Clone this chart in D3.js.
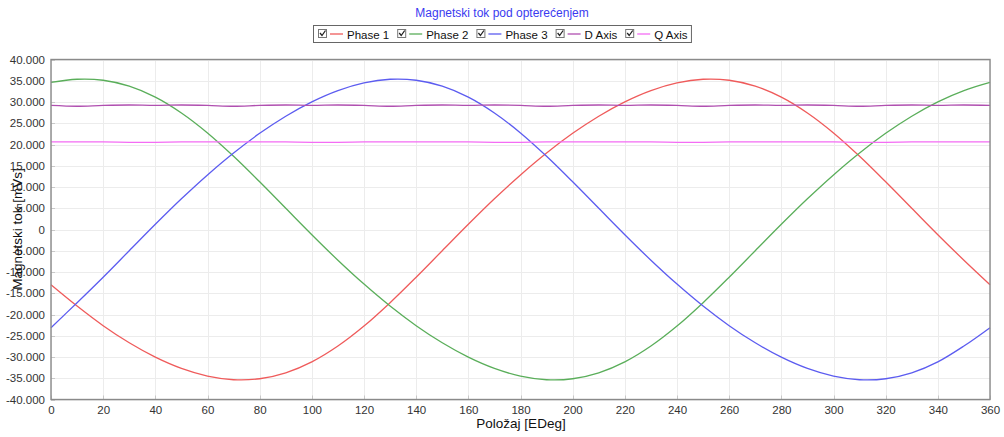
<!DOCTYPE html>
<html><head><meta charset="utf-8">
<script src="https://cdn.jsdelivr.net/npm/d3@7"></script>
<style>
html,body{margin:0;padding:0;background:#fff;}
svg{display:block;font-family:"Liberation Sans",Arial,sans-serif;}
</style></head>
<body><svg id="c" width="1004" height="437"></svg>
<script>
const title = "Magnetski tok pod opterećenjem";
const xLabel = "Položaj [EDeg]";
const yLabel = "Magnetski tok [mVs]";
const angles = [0,10,20,30,40,50,60,70,80,90,100,110,120,130,140,150,160,170,180,190,200,210,220,230,240,250,260,270,280,290,300,310,320,330,340,350,360];
const phase1 = [-13.0,-18.01,-22.63,-26.66,-30.04,-32.69,-34.5,-35.35,-35.12,-33.73,-31.15,-27.42,-22.72,-17.22,-11.22,-4.99,1.23,7.23,12.85,18.01,22.63,26.66,30.04,32.69,34.5,35.35,35.12,33.73,31.15,27.42,22.72,17.22,11.22,4.99,-1.23,-7.23,-13.0];
const phase2 = [34.6,35.35,35.12,33.73,31.15,27.42,22.72,17.22,11.22,4.99,-1.23,-7.23,-12.85,-18.01,-22.63,-26.66,-30.04,-32.69,-34.5,-35.35,-35.12,-33.73,-31.15,-27.42,-22.72,-17.22,-11.22,-4.99,1.23,7.23,12.85,18.01,22.63,26.66,30.04,32.69,34.6];
const phase3 = [-23.1,-17.22,-11.22,-4.99,1.23,7.23,12.85,18.01,22.63,26.66,30.04,32.69,34.5,35.35,35.12,33.73,31.15,27.42,22.72,17.22,11.22,4.99,-1.23,-7.23,-12.85,-18.01,-22.63,-26.66,-30.04,-32.69,-34.5,-35.35,-35.12,-33.73,-31.15,-27.42,-23.1];
const dAxis = [29.2,29.0,29.2,29.3,29.2,29.3,29.2,29.0,29.2,29.3,29.2,29.3,29.2,29.0,29.2,29.3,29.2,29.3,29.2,29.0,29.2,29.3,29.2,29.3,29.2,29.0,29.2,29.3,29.2,29.3,29.2,29.0,29.2,29.3,29.2,29.3,29.2];
const qAxis = [20.6,20.6,20.6,20.5,20.5,20.6,20.6,20.6,20.6,20.6,20.5,20.5,20.6,20.6,20.6,20.6,20.6,20.5,20.5,20.6,20.6,20.6,20.6,20.6,20.5,20.5,20.6,20.6,20.6,20.6,20.6,20.5,20.5,20.6,20.6,20.6,20.6];
const seriesNames = ["Phase 1","Phase 2","Phase 3","D Axis","Q Axis"];
const seriesColors = ["#ef5b5b","#5aae5a","#5c5cf0","#b04fb0","#f46cf4"];
const xTicks = [0,20,40,60,80,100,120,140,160,180,200,220,240,260,280,300,320,340,360];
const yTicks = [-40,-35,-30,-25,-20,-15,-10,-5,0,5,10,15,20,25,30,35,40];
const yTickLabels = ["-40.000","-35.000","-30.000","-25.000","-20.000","-15.000","-10.000","-5.000","0","5.000","10.000","15.000","20.000","25.000","30.000","35.000","40.000"];

const allSeries = [phase1,phase2,phase3,dAxis,qAxis];
const svg = d3.select("#c");
const L=51, R=990, T=59.5, B=399.5;
const x = d3.scaleLinear().domain([0,360]).range([L,R]);
const y = d3.scaleLinear().domain([-40,40]).range([B,T]);

// grid
const g = svg.append("g");
g.selectAll(".vg").data(xTicks).join("line")
  .attr("x1",d=>Math.round(x(d))+0.5).attr("x2",d=>Math.round(x(d))+0.5)
  .attr("y1",T).attr("y2",B).attr("stroke","#ececec").attr("stroke-width",1);
g.selectAll(".hg").data(yTicks).join("line")
  .attr("y1",d=>Math.round(y(d))+0.5).attr("y2",d=>Math.round(y(d))+0.5)
  .attr("x1",L).attr("x2",R).attr("stroke","#ececec").attr("stroke-width",1);

// axes
const xAxis = d3.axisBottom(x).tickValues(xTicks).tickSize(0).tickPadding(6).tickFormat(d3.format("d"));
const yAxis = d3.axisLeft(y).tickValues(yTicks).tickSize(0).tickPadding(6).tickFormat(d=>yTickLabels[yTicks.indexOf(d)]);
const gx = svg.append("g").attr("transform",`translate(0,${B})`).call(xAxis);
const gy = svg.append("g").attr("transform",`translate(${L},0)`).call(yAxis);
[gx,gy].forEach(a=>{a.select(".domain").remove(); a.selectAll("text").attr("fill","#333").style("font-size","11.5px").style("font-family","'Liberation Sans',Arial,sans-serif");});

// small inner tick marks
svg.append("g").selectAll("line").data(xTicks).join("line")
  .attr("x1",d=>Math.round(x(d))+0.5).attr("x2",d=>Math.round(x(d))+0.5)
  .attr("y1",B).attr("y2",B-4).attr("stroke","#c8c8c8");
svg.append("g").selectAll("line").data(yTicks).join("line")
  .attr("y1",d=>Math.round(y(d))+0.5).attr("y2",d=>Math.round(y(d))+0.5)
  .attr("x1",L).attr("x2",L+4).attr("stroke","#c8c8c8");

// series
const line = d3.line().curve(d3.curveCatmullRom.alpha(0.5)).x((d,i)=>x(angles[i])).y(d=>y(d));
svg.append("g").selectAll("path").data(allSeries).join("path")
  .attr("d",d=>line(d)).attr("fill","none")
  .attr("stroke",(d,i)=>seriesColors[i]).attr("stroke-width",1.3);

// frame
svg.append("rect").attr("x",L).attr("y",T).attr("width",R-L).attr("height",B-T)
  .attr("fill","none").attr("stroke","#8a8a8a").attr("stroke-width",1.4);

// title
svg.append("text").attr("x",502).attr("y",17).attr("text-anchor","middle")
  .attr("fill","#3a3af0").style("font-size","12px").text(title);

// axis labels
svg.append("text").attr("x",521).attr("y",428).attr("text-anchor","middle")
  .attr("fill","#111").style("font-size","13.5px").text(xLabel);
svg.append("text").attr("transform","translate(22,229) rotate(-90)").attr("text-anchor","middle")
  .attr("fill","#111").style("font-size","13.5px").text(yLabel);

// legend
const lg = svg.append("g");
const box = lg.append("rect").attr("y",25.5).attr("height",17).attr("fill","#fff")
  .attr("stroke","#666").attr("stroke-width",1);
let cx = 318;
seriesNames.forEach((n,i)=>{
  const it = lg.append("g").attr("transform",`translate(${cx},0)`);
  it.append("rect").attr("x",0.5).attr("y",29.5).attr("width",8).attr("height",8)
    .attr("fill","#fff").attr("stroke","#777");
  it.append("path").attr("d","M2,33 L4,35.5 L7.5,30.5").attr("fill","none").attr("stroke","#222").attr("stroke-width",1.3);
  it.append("line").attr("x1",12).attr("x2",25).attr("y1",34).attr("y2",34)
    .attr("stroke",seriesColors[i]).attr("stroke-width",1.3);
  const t = it.append("text").attr("x",29).attr("y",38.5).attr("fill","#111")
    .style("font-size","11.5px").text(n);
  cx += 29 + t.node().getComputedTextLength() + 8;
});
box.attr("x",313.5).attr("width",cx-313.5-4);
</script></body></html>
